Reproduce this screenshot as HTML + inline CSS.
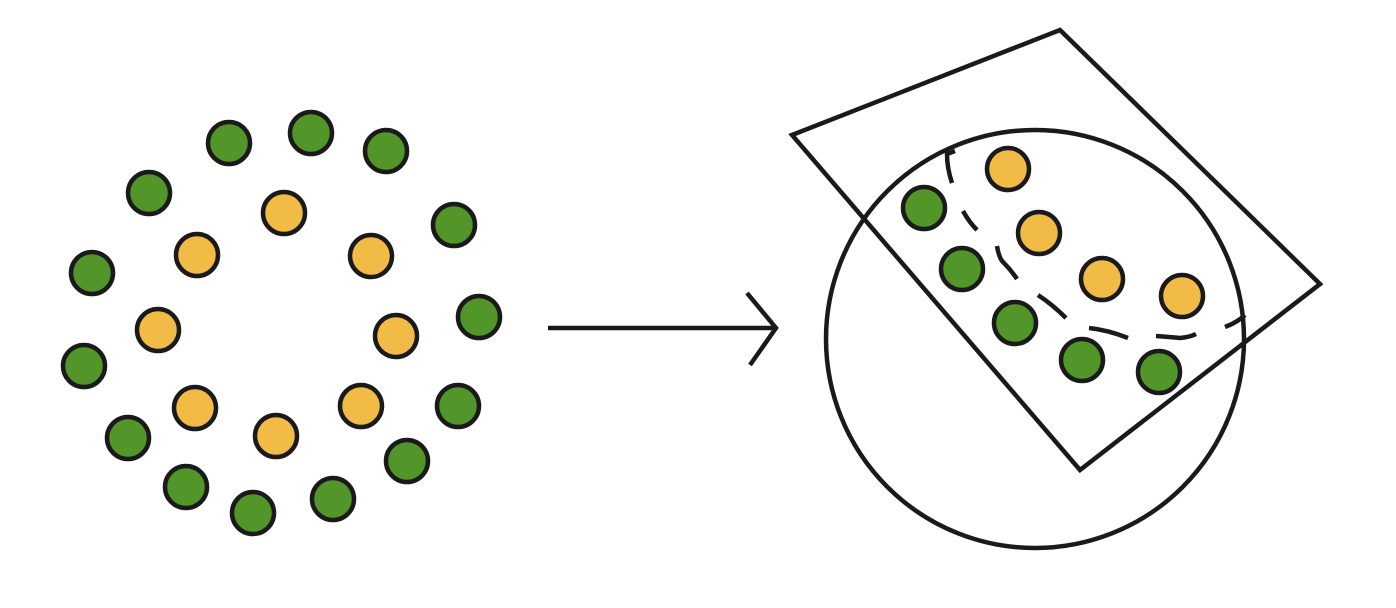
<!DOCTYPE html>
<html><head><meta charset="utf-8"><style>
html,body{margin:0;padding:0;background:#fff;width:1396px;height:608px;overflow:hidden}
svg{display:block}
</style></head><body>
<svg id="fig" width="1396" height="608" viewBox="0 0 1396 608" xmlns="http://www.w3.org/2000/svg">
<g id="left"></g>
<g stroke="#1a1a1a" stroke-width="4.5" fill="none">
<line x1="548" y1="328" x2="776" y2="328"/>
<polyline points="747,293 776,328 750,365"/>
</g>
<g stroke="#1a1a1a" stroke-width="4.5" fill="none" stroke-linejoin="miter">
<circle cx="1035" cy="339" r="209"/>
<polygon points="792,135 1060,30 1320,284 1080,470"/>
<path d="M955,151 L947,154 Q947,168 952,183 M963,211 Q969,222 977,230 M997,246 Q999,258 1003,262 Q1011,270 1017,279 M1038,295 Q1053,305 1066,318 M1089,328 Q1108,330 1128,338 M1156,336 Q1170,337 1180,338 Q1190,337 1196,334 M1225,327 Q1238,322 1245,315"/>
</g>
<g id="right"></g>
</svg>
<script>
const leftX=[229,311,386,149,454,92,479,84,458,128,407,186,253,333,284,197,371,158,396,195,361,276];
const leftY=[143,133,151,193,225,273,317,366,406,438,461,487,513,499,213,255,256,330,336,408,406,436];
const leftClass=["g","g","g","g","g","g","g","g","g","g","g","g","g","g","y","y","y","y","y","y","y","y"];
const rightX=[924,962,1015,1082,1159,1008,1039,1102,1182];
const rightY=[208,269,323,360,372,169,233,279,296];
const rightClass=["g","g","g","g","g","y","y","y","y"];
const NS="http://www.w3.org/2000/svg";
function draw(gid,xs,ys,cls){
  const g=document.getElementById(gid);
  for(let i=0;i<xs.length;i++){
    const c=document.createElementNS(NS,"circle");
    c.setAttribute("cx",xs[i]);c.setAttribute("cy",ys[i]);c.setAttribute("r",21);
    c.setAttribute("fill",cls[i]==="g"?"#529529":"#f2bb45");
    c.setAttribute("stroke","#1a1a1a");c.setAttribute("stroke-width","4.5");
    
    
    g.appendChild(c);
  }
}
draw("left",leftX,leftY,leftClass);
draw("right",rightX,rightY,rightClass);
</script>
</body></html>
